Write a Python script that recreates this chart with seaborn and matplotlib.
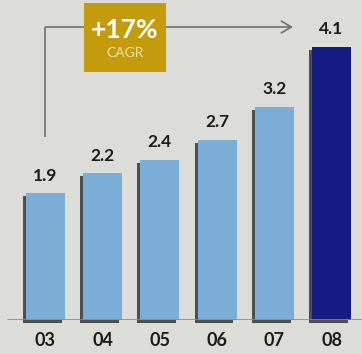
import matplotlib
matplotlib.use("Agg")
import matplotlib.pyplot as plt
import matplotlib.patheffects as pe
from matplotlib.patches import Rectangle
import seaborn as sns
import pandas as pd

years = ["03", "04", "05", "06", "07", "08"]
revenue = [1.9, 2.2, 2.4, 2.7, 3.2, 4.1]
value_labels = ["1.9", "2.2", "2.4", "2.7", "3.2", "4.1"]
growth_label = "+17%"
growth_sub = "CAGR"

BG = "#dcdcd8"
LIGHT = "#7badd6"
DARK = "#161b82"
GOLD = "#c49b0c"
LINE = "#707070"

sns.set_theme(style="white")
plt.rcParams["font.family"] = ["Lato", "DejaVu Sans"]

fig = plt.figure(figsize=(3.62, 3.54), dpi=100, facecolor=BG)
ax = fig.add_axes([0, 34/354, 1, 320/354])
ax.set_facecolor(BG)

df = pd.DataFrame({"year": years, "value": revenue})
colors = [LIGHT] * (len(years) - 1) + [DARK]
sns.barplot(data=df, x="year", y="value", hue="year", palette=colors,
            legend=False, width=0.68, ax=ax, saturation=1, linewidth=0)

for p in ax.patches:
    p.set_linewidth(0)
    p.set_clip_on(False)
    p.set_path_effects([pe.SimplePatchShadow(offset=(-2.2, -2.2), shadow_rgbFace="#2a2a2a", alpha=0.8),
                        pe.Normal()])

px = 57.2
ax.set_xlim(-45.5/px, (362-45.5)/px)
ax.set_ylim(0, 320/66.7)

for i, (v, lab) in enumerate(zip(revenue, value_labels)):
    ax.annotate(lab, (i, v), xytext=(0, 7), textcoords="offset points",
                ha="center", va="bottom", fontsize=12.5, fontweight="bold", color="#1a1a1a")

for s in ax.spines.values():
    s.set_visible(False)
ax.axhline(0, xmin=8/362, xmax=1, color="#8a8a8a", lw=1.2, zorder=5)
ax.set_yticks([])
ax.set_xlabel("")
ax.set_ylabel("")
ax.tick_params(axis="x", length=0, pad=9)
for t in ax.get_xticklabels():
    t.set_fontsize(13)
    t.set_fontweight("bold")
    t.set_color("#1a1a1a")

# bracket arrow
y_top = (320-27)/66.7
ax.plot([0, 0], [(320-137)/66.7, y_top], color=LINE, lw=1.2, solid_capstyle="butt")
ax.annotate("", xy=((293-45.5)/px, y_top), xytext=(0, y_top),
            arrowprops=dict(arrowstyle="->,head_length=0.6,head_width=0.35", color=LINE, lw=1.2,
                            shrinkA=0, shrinkB=0))

# gold box
x0 = (84-45.5)/px
x1 = (166-45.5)/px
y0 = (320-72)/66.7
y1 = (320-3)/66.7
ax.add_patch(Rectangle((x0, y0), x1-x0, y1-y0, facecolor=GOLD, edgecolor="none", zorder=6))
ax.text((x0+x1)/2, (320-30)/66.7, growth_label, ha="center", va="center",
        fontsize=19, fontweight="bold", color="white", zorder=7)
ax.text((x0+x1)/2, (320-53)/66.7, growth_sub, ha="center", va="center",
        fontsize=10, color="#f3e3a6", zorder=7)

fig.savefig("out.png", dpi=100, facecolor=BG)
